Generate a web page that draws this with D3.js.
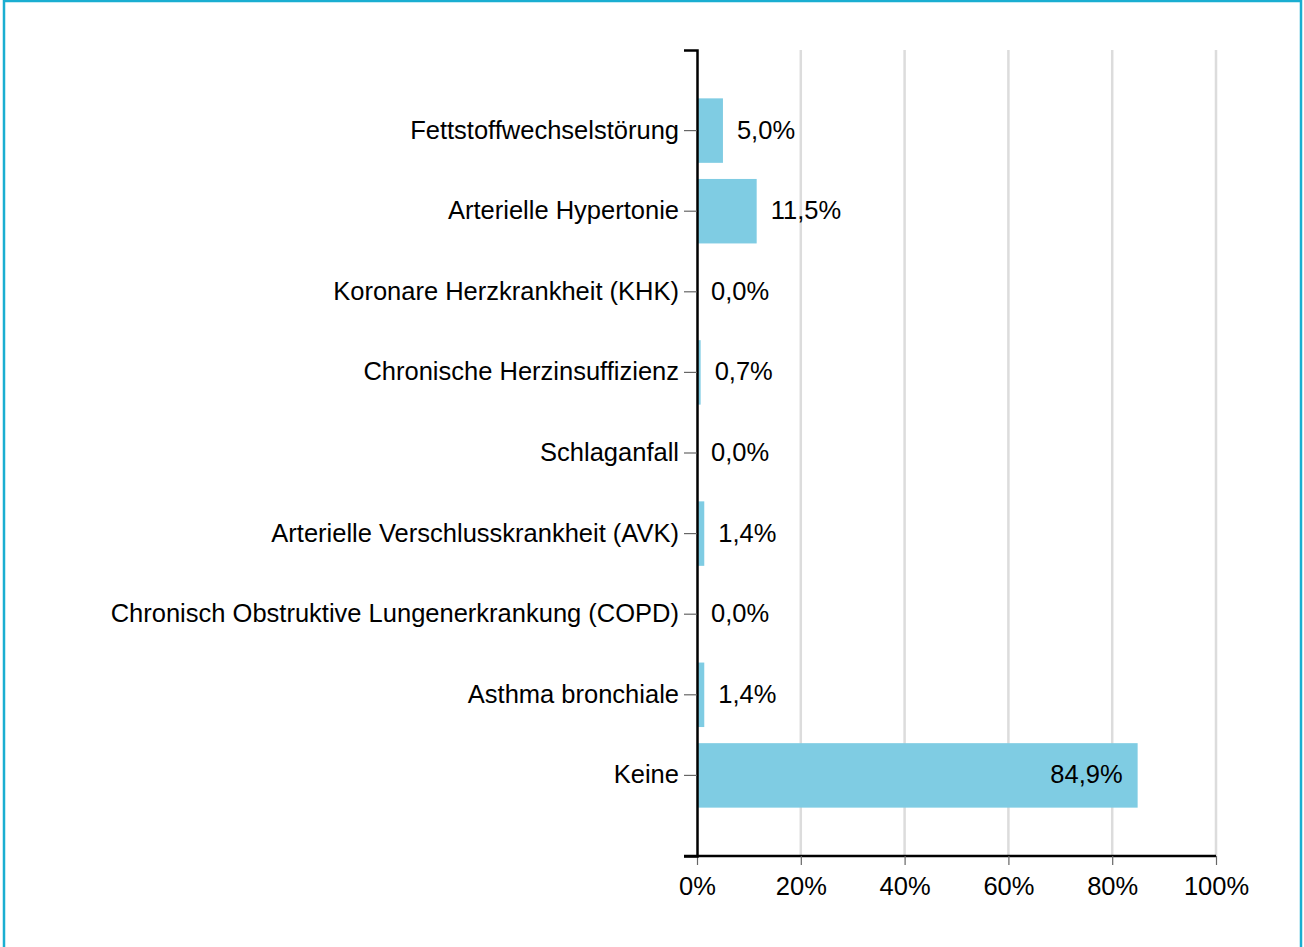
<!DOCTYPE html>
<html>
<head>
<meta charset="utf-8">
<script src="https://cdn.jsdelivr.net/npm/d3@7"></script>
<style>
  html, body { margin: 0; padding: 0; background: #fff; }
  svg { display: block; font-family: "Liberation Sans", Arial, sans-serif; }
  .grid line { stroke: #dcdcdc; stroke-width: 2.5; }
  .axis path { stroke: #000; stroke-width: 2.5; }
  .axis .tick line { stroke: #666; stroke-width: 1.2; }
  .axis text { font-size: 25.5px; fill: #000; }
  .value { font-size: 25.5px; fill: #000; }
</style>
</head>
<body>
<svg id="chart" width="1304" height="947"></svg>
<script>
const categories = [
  'Fettstoffwechselstörung',
  'Arterielle Hypertonie',
  'Koronare Herzkrankheit (KHK)',
  'Chronische Herzinsuffizienz',
  'Schlaganfall',
  'Arterielle Verschlusskrankheit (AVK)',
  'Chronisch Obstruktive Lungenerkrankung (COPD)',
  'Asthma bronchiale',
  'Keine'
]
const values = [ 5.0, 11.5, 0.0, 0.7, 0.0, 1.4, 0.0, 1.4, 84.9 ]
const xTicks = [ 0, 20, 40, 60, 80, 100 ]

const svg = d3.select('#chart')

// frame
svg.append('rect')
  .attr('x', 4).attr('y', 1)
  .attr('width', 1297).attr('height', 1000)
  .attr('fill', 'none')
  .attr('stroke', '#1aaed1')
  .attr('stroke-width', 2.5)

const plot = { left: 697, right: 1216, top: 50, bottom: 856 }

const x = d3.scaleLinear().domain([ 0, 100 ]).range([ plot.left, plot.right ])
const y = d3.scaleBand().domain(categories).range([ plot.top, plot.bottom ])
  .paddingInner(0.2).paddingOuter(0.6)

const fmt = v => d3.format('.1f')(v).replace('.', ',') + '%'

// grid
svg.append('g').attr('class', 'grid')
  .selectAll('line')
  .data(xTicks.filter(t => t > 0))
  .join('line')
    .attr('x1', d => x(d)).attr('x2', d => x(d))
    .attr('y1', plot.top).attr('y2', plot.bottom)

// bars
svg.append('g')
  .selectAll('rect')
  .data(values)
  .join('rect')
    .attr('x', x(0))
    .attr('y', (d, i) => y(categories[i]))
    .attr('width', d => x(d) - x(0))
    .attr('height', y.bandwidth())
    .attr('fill', '#7fcce3')

// value labels
svg.append('g')
  .selectAll('text')
  .data(values)
  .join('text')
    .attr('class', 'value')
    .attr('x', d => d > 50 ? x(d) - 15 : x(d) + 14)
    .attr('y', (d, i) => y(categories[i]) + y.bandwidth() / 2)
    .attr('dy', '0.31em')
    .attr('text-anchor', d => d > 50 ? 'end' : 'start')
    .text(fmt)

// axes
svg.append('g').attr('class', 'axis')
  .attr('transform', `translate(0,${plot.bottom})`)
  .call(d3.axisBottom(x).tickValues(xTicks).tickFormat(d => d + '%')
    .tickSize(9).tickSizeOuter(0).tickPadding(12))
  .call(g => g.select('.domain').attr('d', `M${plot.left - 13},0H${plot.right}`))

svg.append('g').attr('class', 'axis')
  .attr('transform', `translate(${plot.left},0)`)
  .call(d3.axisLeft(y).tickSize(13).tickSizeOuter(13).tickPadding(5))
  .call(g => g.selectAll('.tick text').attr('dy', '0.31em'))
</script>
</body>
</html>
